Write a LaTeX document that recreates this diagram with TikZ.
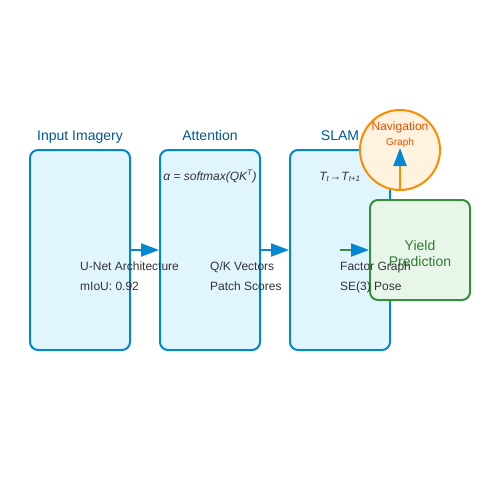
\documentclass[tikz,border=0pt]{standalone}
\usepackage{fontspec}
\setmainfont{Liberation Sans}
\usetikzlibrary{arrows.meta}
\definecolor{boxfill}{HTML}{E1F5FE}
\definecolor{boxline}{HTML}{0288D1}
\definecolor{titleblue}{HTML}{01579B}
\definecolor{textgray}{HTML}{333333}
\definecolor{yieldfill}{HTML}{E8F5E9}
\definecolor{yieldline}{HTML}{388E3C}
\definecolor{yieldtext}{HTML}{2E7D32}
\definecolor{navfill}{HTML}{FFF3E0}
\definecolor{navline}{HTML}{FB8C00}
\definecolor{navtext}{HTML}{E65100}
\tikzset{
  stage/.style={draw=boxline, fill=boxfill, line width=2pt, rounded corners=8pt,
    minimum width=100pt, minimum height=200pt, inner sep=0pt},
  yieldbox/.style={draw=yieldline, fill=yieldfill, line width=2pt, rounded corners=8pt,
    minimum width=100pt, minimum height=100pt, inner sep=0pt},
  navcircle/.style={circle, draw=navline, fill=navfill, line width=2pt,
    minimum size=80pt, inner sep=0pt},
  stagetitle/.style={anchor=base, text=titleblue, font=\fontsize{14pt}{16pt}\selectfont, inner sep=0pt},
  detail/.style={anchor=base west, text=textgray, font=\fontsize{12pt}{14pt}\selectfont, inner sep=0pt},
  formula/.style={anchor=base, text=textgray, font=\fontsize{12pt}{14pt}\selectfont\itshape, inner sep=0pt},
  flow/.style={line width=2pt, draw=boxline, -{Triangle[length=18pt,width=13pt,color=boxline]}},
}
\begin{document}
\begin{tikzpicture}[x=1pt,y=-1pt]
\useasboundingbox (0,0) rectangle (500,500);
\fill[white] (0,0) rectangle (500,500);
% stages
\node[stage] (input) at (80,250) {};
\node[stage] (attn) at (210,250) {};
\node[stage] (slam) at (340,250) {};
% titles
\node[stagetitle] (tin) at (80,140) {Input Imagery};
\node[stagetitle] (tat) at (210,140) {Attention};
\node[stagetitle] (tsl) at (340,140) {SLAM};
% formulas
\node[formula] (fat) at (210,180) {α = softmax(QK\textsuperscript{T})};
\node[formula] (fsl) at (340,180) {T\textsubscript{t}→T\textsubscript{t+1}};
% arrows
\draw[flow] (input.east) -- (attn.west);
\draw[flow] (attn.east) -- (slam.west);
% yield box
\node[yieldbox] (yield) at (420,250) {};
\draw[flow, draw=yieldline] (slam.center) -- (yield.west);
\node[anchor=base, text=yieldtext, font=\fontsize{14pt}{16pt}\selectfont, inner sep=0pt] (y1) at (420,250) {Yield};
\node[anchor=base, text=yieldtext, font=\fontsize{14pt}{16pt}\selectfont, inner sep=0pt] (y2) at (420,266) {Prediction};
% navigation
\node[navcircle] (nav) at (400,150) {};
\coordinate (navtip) at (400,148);
\draw[flow, draw=navline] (nav.south) -- (navtip);
\node[anchor=base, text=navtext, font=\fontsize{12pt}{14pt}\selectfont, inner sep=0pt] (n1) at (400,130) {Navigation};
\node[anchor=base, text=navtext, font=\fontsize{10pt}{12pt}\selectfont, inner sep=0pt] (n2) at (400,145) {Graph};
% details
\node[detail] (d1) at (80,270) {U-Net Architecture};
\node[detail] (d2) at (80,290) {mIoU: 0.92};
\node[detail] (d3) at (210,270) {Q/K Vectors};
\node[detail] (d4) at (210,290) {Patch Scores};
\node[detail] (d5) at (340,270) {Factor Graph};
\node[detail] (d6) at (340,290) {SE(3) Pose};
\end{tikzpicture}
\end{document}
